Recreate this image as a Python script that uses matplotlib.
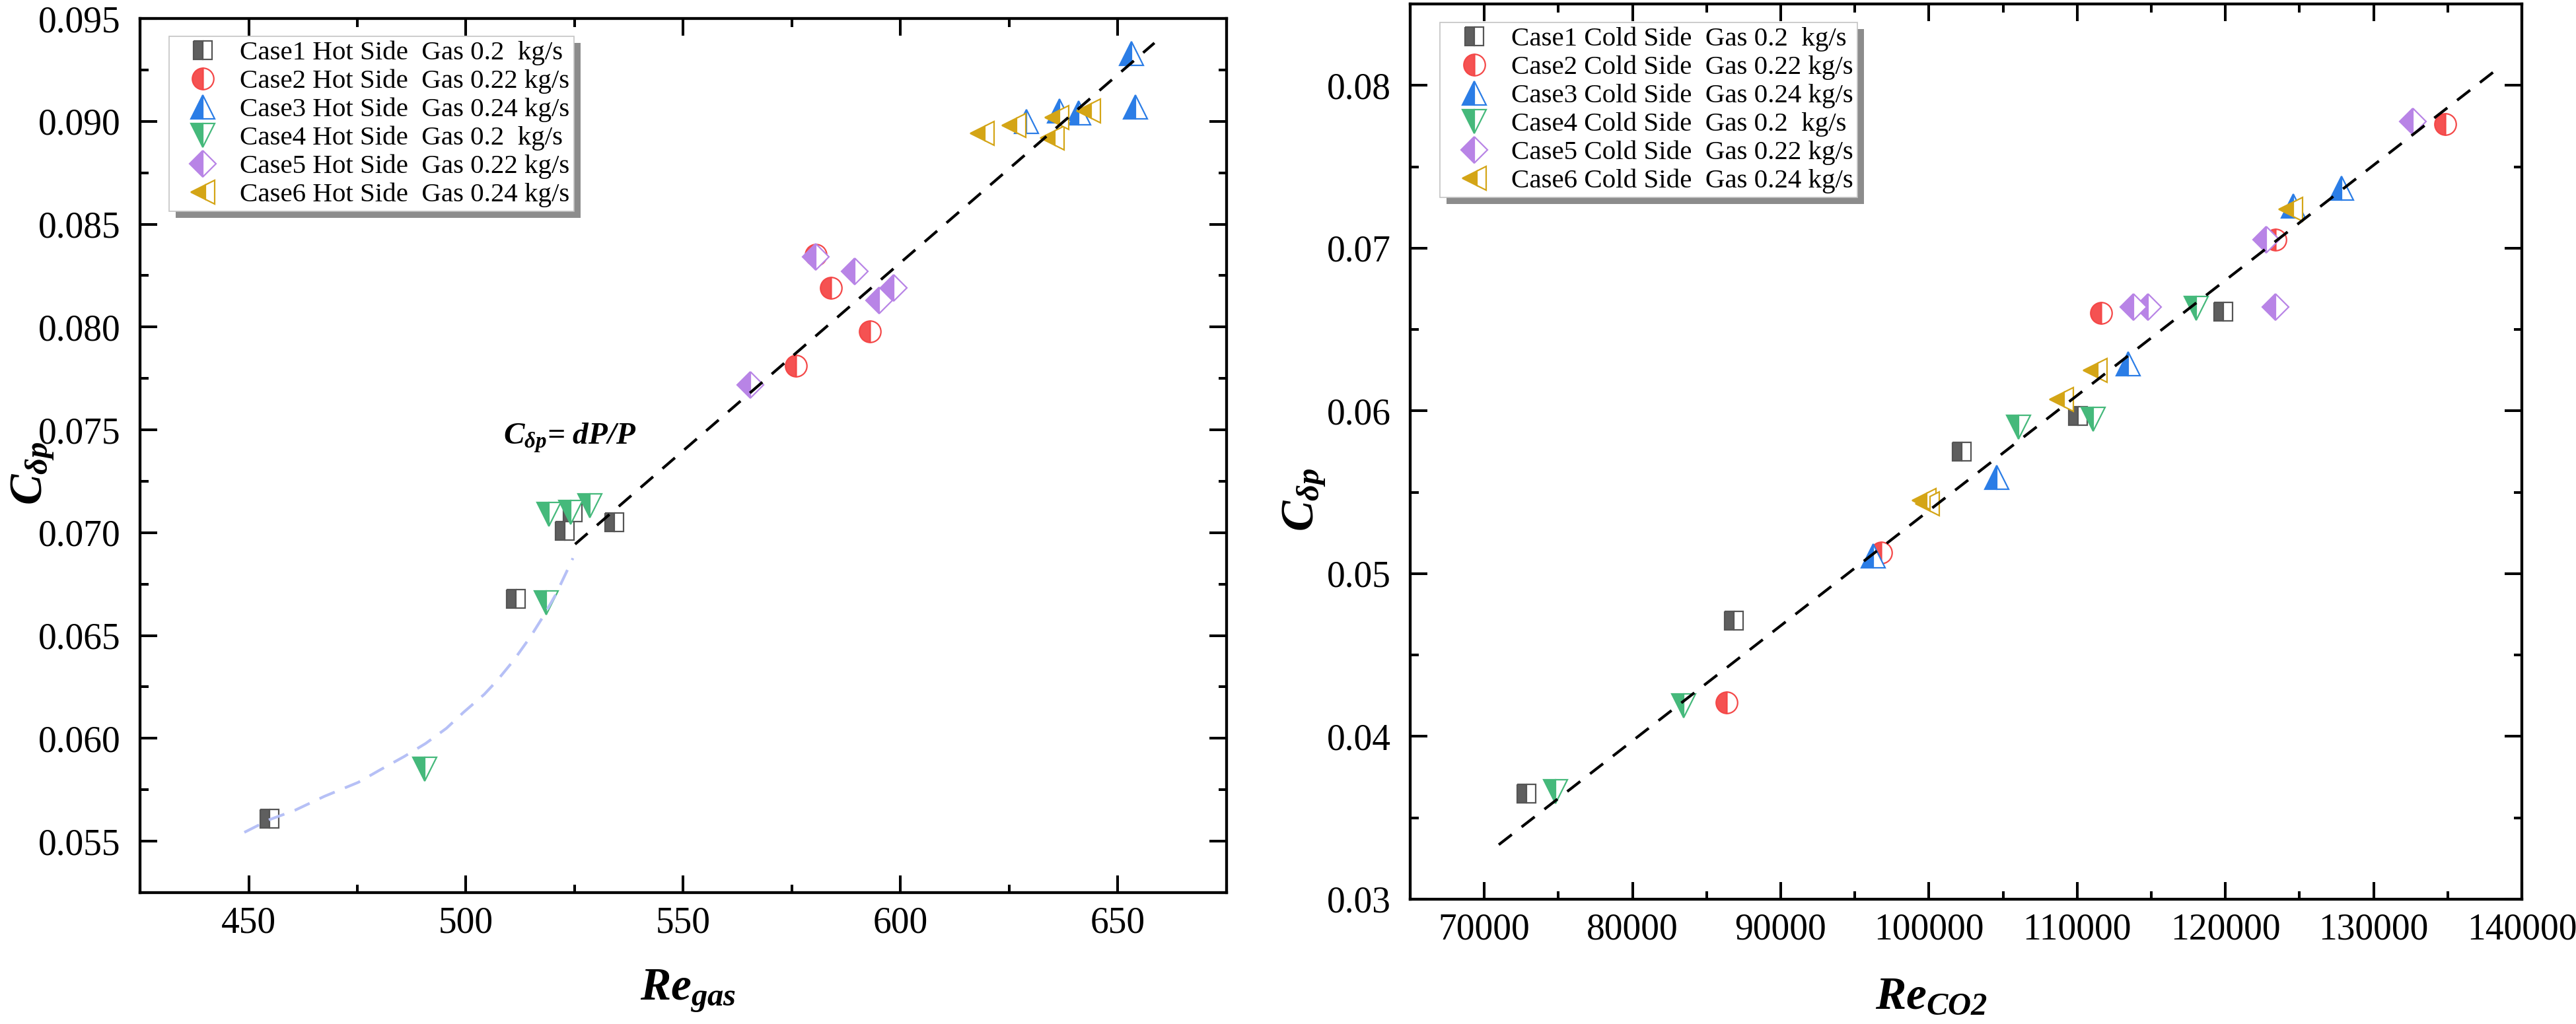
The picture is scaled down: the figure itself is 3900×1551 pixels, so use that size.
import matplotlib.pyplot as plt
import matplotlib.ticker as mticker
from matplotlib.patches import Rectangle
from matplotlib.transforms import IdentityTransform

plt.rcParams['font.family'] = ['Liberation Serif', 'DejaVu Serif']
plt.rcParams['mathtext.fontset'] = 'custom'
plt.rcParams['mathtext.it'] = 'Liberation Serif:italic:bold'
plt.rcParams['mathtext.rm'] = 'Liberation Serif:italic:bold'
plt.rcParams['mathtext.bf'] = 'Liberation Serif:italic:bold'

# ---- hot side (left panel), Re_gas vs C_dp ----
re_gas_1 = [454.8, 511.5, 522.7, 524.6, 534.1]
cdp_hot_1 = [0.0561, 0.0668, 0.0701, 0.0710, 0.0705]
re_gas_2 = [575.9, 580.4, 584.0, 593.0]
cdp_hot_2 = [0.0781, 0.0835, 0.0819, 0.0798]
re_gas_3 = [628.9, 636.6, 641.0, 653.1, 654.1]
cdp_hot_3 = [0.0900, 0.0905, 0.0904, 0.0933, 0.0907]
re_gas_4 = [490.5, 518.5, 519.0, 524.1, 528.5]
cdp_hot_4 = [0.0585, 0.0666, 0.0709, 0.0710, 0.0713]
re_gas_5 = [565.4, 580.4, 589.4, 595.0, 598.4]
cdp_hot_5 = [0.0772, 0.0834, 0.0827, 0.0813, 0.0819]
re_gas_6 = [618.7, 626.0, 634.9, 635.9, 643.2]
cdp_hot_6 = [0.0894, 0.0898, 0.0892, 0.0902, 0.0905]

# fitted curves
hot_curve_re = [449.0, 454.8, 460.6, 467.4, 475.2, 480.0, 485.8, 490.7, 495.5,
                499.4, 504.2, 507.2, 511.0, 514.9, 517.8, 520.7, 523.1, 524.6]
hot_curve_cdp = [0.05543, 0.05605, 0.05650, 0.05718, 0.05786, 0.05844, 0.05912, 0.05975, 0.06049,
                 0.06126, 0.06214, 0.06282, 0.06380, 0.06496, 0.06594, 0.06701, 0.06808, 0.06876]
hot_line_re = [525.1, 658.4]
hot_line_cdp = [0.06944, 0.09381]

# ---- cold side (right panel), Re_CO2 vs C_dp ----
re_co2_1 = [72825, 86836, 102200, 110031, 119839]
cdp_cold_1 = [0.0365, 0.0471, 0.0575, 0.0597, 0.0661]
re_co2_2 = [86323, 96783, 111595, 123397, 134817]
cdp_cold_2 = [0.0421, 0.0513, 0.0660, 0.0705, 0.0776]
re_co2_3 = [96216, 104572, 113440, 124581, 127852]
cdp_cold_3 = [0.0511, 0.0559, 0.0629, 0.0726, 0.0737]
re_co2_4 = [74813, 83427, 106052, 111083, 118048]
cdp_cold_4 = [0.0366, 0.0419, 0.0590, 0.0595, 0.0663]
re_co2_5 = [113784, 114777, 122742, 123392, 132629]
cdp_cold_5 = [0.0664, 0.0664, 0.0705, 0.0664, 0.0778]
re_co2_6 = [99684, 99911, 108952, 111226, 124386]
cdp_cold_6 = [0.0545, 0.0543, 0.0607, 0.0625, 0.0724]

cold_line_re = [70976, 138454]
cold_line_cdp = [0.03335, 0.08108]

flows = ['0.2  kg/s', '0.22 kg/s', '0.24 kg/s', '0.2  kg/s', '0.22 kg/s', '0.24 kg/s']

# marker styles (Origin-like half filled symbols)
markers = ['s', 'o', '^', 'v', 'D', '<']
msizes = [20.5, 23.4, 26, 26, 20.4, 26]
colors = ['#5f5f5f', '#f55252', '#2b7de6', '#45b97b', '#b884e6', '#d4a516']
edges = ['#555555', '#f44848', '#2b7de6', '#45b97b', '#b884e6', '#d4a516']

hot_sets = [(re_gas_1, cdp_hot_1), (re_gas_2, cdp_hot_2), (re_gas_3, cdp_hot_3),
            (re_gas_4, cdp_hot_4), (re_gas_5, cdp_hot_5), (re_gas_6, cdp_hot_6)]
cold_sets = [(re_co2_1, cdp_cold_1), (re_co2_2, cdp_cold_2), (re_co2_3, cdp_cold_3),
             (re_co2_4, cdp_cold_4), (re_co2_5, cdp_cold_5), (re_co2_6, cdp_cold_6)]

fig = plt.figure(figsize=(39, 15.51), dpi=100)
ax1 = fig.add_axes([0.05436, 0.12830, 0.42179, 0.85364])
ax2 = fig.add_axes([0.54744, 0.12186, 0.43154, 0.87427])


def draw_cases(ax, sets, side):
    for i, (xs, ys) in enumerate(sets):
        ax.plot(xs, ys, linestyle='none', marker=markers[i], ms=msizes[i],
                mfc=colors[i], mec=edges[i], mew=1.6, fillstyle='left',
                markerfacecoloralt='white',
                label=f'Case{i + 1} {side} Side  Gas {flows[i]}')


def style_axes(ax):
    for sp in ax.spines.values():
        sp.set_linewidth(3.1)
    ax.tick_params(which='both', direction='in', top=True, right=True, width=2.9,
                   labelsize=40)
    ax.tick_params(which='major', length=18.5)
    ax.tick_params(which='minor', length=9)
    ax.tick_params(axis='x', pad=15)
    ax.tick_params(axis='y', pad=21)


def add_legend(ax, anchor):
    leg = ax.legend(loc='upper left', bbox_to_anchor=anchor, borderaxespad=0,
                    fontsize=29.5, frameon=True, fancybox=False, framealpha=1,
                    edgecolor='#c4c4c4', borderpad=0.15, handlelength=2.2,
                    handletextpad=0.27, labelspacing=0.13, numpoints=1)
    leg.get_frame().set_linewidth(1.2)
    return leg


# left panel
draw_cases(ax1, hot_sets, 'Hot')
ax1.plot(hot_curve_re, hot_curve_cdp, color='#b6c0f6', lw=3, linestyle=(0, (6, 4)), zorder=3)
ax1.plot(hot_line_re, hot_line_cdp, color='black', lw=3, linestyle=(0, (6, 4.5)), zorder=3)
ax1.text(508.6, 0.0743, r'$C_{\delta p}$= $dP/P$', fontsize=34, fontweight='bold',
         fontstyle='italic', va='baseline', ha='left')
ax1.set_xlim(425, 675)
ax1.set_ylim(0.0525, 0.095)
ax1.xaxis.set_major_locator(mticker.MultipleLocator(50))
ax1.xaxis.set_minor_locator(mticker.MultipleLocator(25))
ax1.yaxis.set_major_locator(mticker.MultipleLocator(0.005))
ax1.yaxis.set_minor_locator(mticker.MultipleLocator(0.0025))
ax1.xaxis.set_major_formatter(mticker.FormatStrFormatter('%d'))
ax1.yaxis.set_major_formatter(mticker.FormatStrFormatter('%.3f'))
style_axes(ax1)
ax1.set_xlabel(r'$Re_{gas}$', fontsize=50)
ax1.set_ylabel(r'$C_{\delta p}$', fontsize=50)
ax1.xaxis.set_label_coords(0.5046, -0.087)
ax1.yaxis.set_label_coords(-0.077, 0.4796)
leg1 = add_legend(ax1, (0.0267, 0.9796))

# right panel
draw_cases(ax2, cold_sets, 'Cold')
ax2.plot(cold_line_re, cold_line_cdp, color='black', lw=3, linestyle=(0, (6, 4.5)), zorder=3)
ax2.set_xlim(65000, 140000)
ax2.set_ylim(0.03, 0.085)
ax2.xaxis.set_major_locator(mticker.MultipleLocator(10000))
ax2.xaxis.set_minor_locator(mticker.MultipleLocator(5000))
ax2.yaxis.set_major_locator(mticker.MultipleLocator(0.01))
ax2.yaxis.set_minor_locator(mticker.MultipleLocator(0.005))
ax2.xaxis.set_major_formatter(mticker.FormatStrFormatter('%d'))
ax2.yaxis.set_major_formatter(mticker.FormatStrFormatter('%.2f'))
style_axes(ax2)
ax2.set_xlabel(r'$Re_{CO2}$', fontsize=50)
ax2.set_ylabel(r'$C_{\delta p}$', fontsize=50)
ax2.xaxis.set_label_coords(0.469, -0.086)
ax2.yaxis.set_label_coords(-0.0743, 0.4462)
leg2 = add_legend(ax2, (0.027, 0.979))

# Origin-style drop shadow behind the legends
fig.canvas.draw()
for ax, leg in [(ax1, leg1), (ax2, leg2)]:
    bb = leg.get_window_extent()
    shadow = Rectangle((bb.x0 + 10, bb.y0 - 10), bb.width, bb.height,
                       transform=IdentityTransform(), facecolor='#8c8c8c',
                       edgecolor='none', zorder=leg.get_zorder() - 0.1)
    ax.add_artist(shadow)
    shadow.set_clip_on(False)

fig.savefig('out.png', dpi=100)
plt.close(fig)
